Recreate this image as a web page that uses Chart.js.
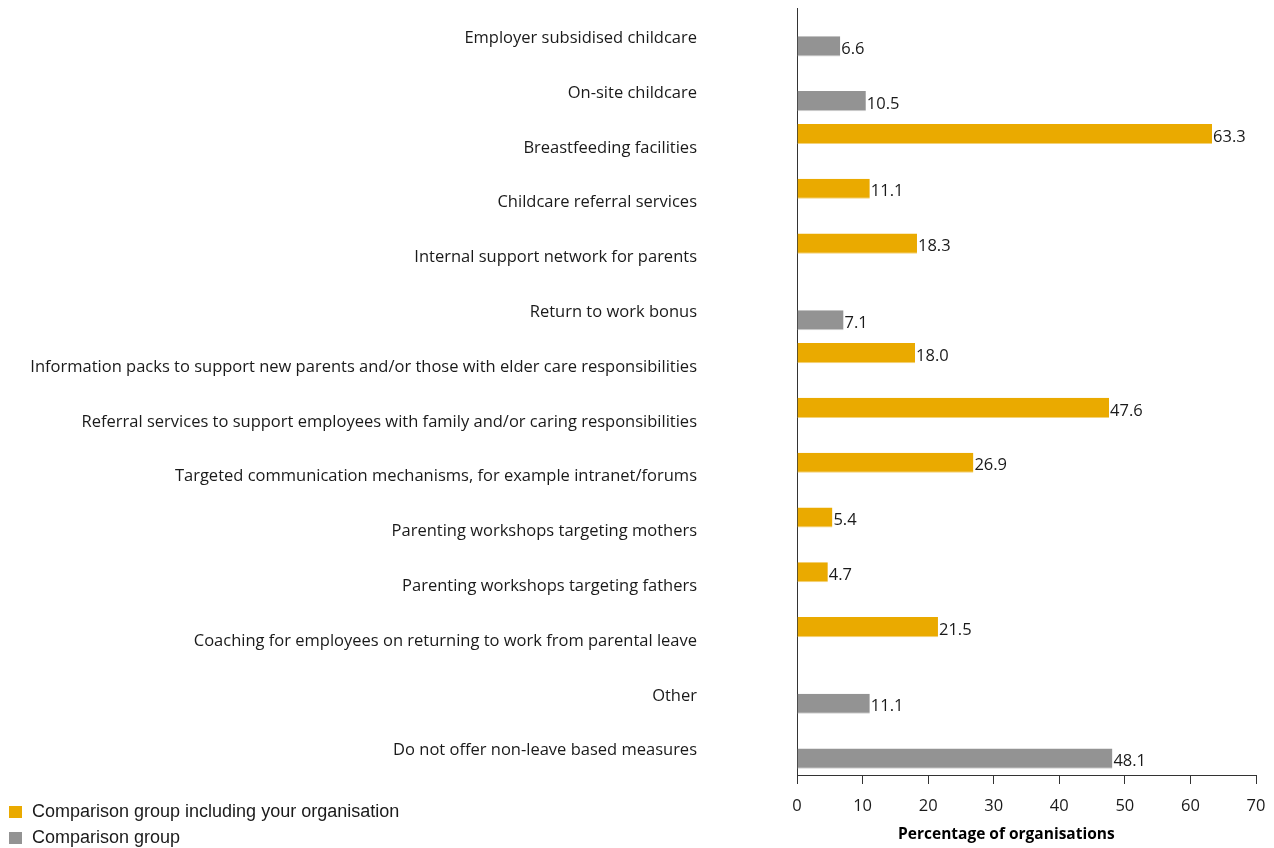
<!DOCTYPE html>
<html>
<head>
<meta charset="utf-8">
<script src="https://cdn.jsdelivr.net/npm/chart.js@4"></script>
<style>
  html, body { margin: 0; padding: 0; background: #fff; }
  #wrap { position: relative; width: 1274px; height: 848px; }
  #legend { position: absolute; left: 9px; top: 800px; font-family: "Liberation Sans", Arial, sans-serif; font-size: 18px; color: #1a1a1a; }
  #legend div { height: 26px; line-height: 22px; white-space: nowrap; }
  #legend span { display: inline-block; width: 13px; height: 12px; margin-right: 10px; vertical-align: -1px; }
</style>
</head>
<body>
<div id="wrap">
  <canvas id="chart" width="1274" height="848"></canvas>
  <div id="legend"></div>
</div>
<script>
const categories = [
  'Employer subsidised childcare',
  'On-site childcare',
  'Breastfeeding facilities',
  'Childcare referral services',
  'Internal support network for parents',
  'Return to work bonus',
  'Information packs to support new parents and/or those with elder care responsibilities',
  'Referral services to support employees with family and/or caring responsibilities',
  'Targeted communication mechanisms, for example intranet/forums',
  'Parenting workshops targeting mothers',
  'Parenting workshops targeting fathers',
  'Coaching for employees on returning to work from parental leave',
  'Other',
  'Do not offer non-leave based measures'
];

// percentage of organisations per measure; null where a group has no bar
const withOrg = [null, null, 63.3, 11.1, 18.3, null, 18.0, 47.6, 26.9, 5.4, 4.7, 21.5, null, null];
const comparison = [6.6, 10.5, null, null, null, 7.1, null, null, null, null, null, null, 11.1, 48.1];

const seriesNames = ['Comparison group including your organisation', 'Comparison group'];
const xTicks = [0, 10, 20, 30, 40, 50, 60, 70];

const YELLOW = '#eaaa00';
const GREY = '#939393';
const TEXT = '#1a1a1a';
const labelFont = '"Open Sans", "Noto Sans", sans-serif';

// write the value just past the end of each bar
const valueLabels = {
  id: 'valueLabels',
  afterDatasetsDraw(chart) {
    const ctx = chart.ctx;
    ctx.save();
    ctx.font = '16.5px ' + labelFont;
    ctx.fillStyle = TEXT;
    ctx.textAlign = 'left';
    ctx.textBaseline = 'middle';
    chart.data.datasets.forEach((ds, i) => {
      chart.getDatasetMeta(i).data.forEach((bar, j) => {
        const v = ds.data[j];
        if (v === null) return;
        ctx.fillText(v.toFixed(1), bar.x + 1, bar.y + 3);
      });
    });
    ctx.restore();
  }
};

const chart = new Chart(document.getElementById('chart'), {
  type: 'bar',
  data: {
    labels: categories,
    datasets: [
      {
        label: seriesNames[0],
        data: withOrg,
        backgroundColor: YELLOW,
        borderColor: '#f3d27a',
        borderWidth: { top: 0, right: 0, bottom: 1, left: 0 },
        borderSkipped: false
      },
      {
        label: seriesNames[1],
        data: comparison,
        backgroundColor: GREY,
        borderColor: '#cfcfcf',
        borderWidth: { top: 0, right: 0, bottom: 1, left: 0 },
        borderSkipped: false
      }
    ]
  },
  options: {
    indexAxis: 'y',
    responsive: false,
    animation: false,
    categoryPercentage: 0.8,
    barPercentage: 0.92,
    layout: { padding: { top: 8, right: 18, left: 0, bottom: 0 } },
    plugins: {
      legend: { display: false },
      tooltip: { enabled: false }
    },
    scales: {
      x: {
        min: 0,
        max: 70,
        afterBuildTicks(scale) {
          scale.ticks = xTicks.map(v => ({ value: v }));
        },
        afterFit(scale) {
          scale.height = 73;
          scale.paddingLeft = 0;
          scale.paddingRight = 0;
        },
        border: { display: true, color: '#333', width: 1 },
        grid: { drawOnChartArea: false, drawTicks: true, tickLength: 9, color: '#333' },
        ticks: { color: TEXT, font: { family: labelFont, size: 16.5 }, padding: 12 },
        title: {
          display: true,
          text: 'Percentage of organisations          ',
          color: '#000',
          font: { family: labelFont, size: 15.5, weight: 'bold' },
          padding: { top: 0, bottom: 4 }
        }
      },
      y: {
        afterFit(scale) {
          scale.width = 797;
          scale.paddingTop = 0;
          scale.paddingBottom = 0;
        },
        border: { display: true, color: '#333', width: 1 },
        // invisible tick marks keep the labels well clear of the axis
        grid: { display: true, drawOnChartArea: false, drawTicks: true, tickLength: 96, color: 'rgba(0,0,0,0)' },
        ticks: { color: TEXT, font: { family: labelFont, size: 16.5 }, padding: 4, labelOffset: 3, autoSkip: false }
      }
    }
  },
  plugins: [valueLabels]
});

// legend at the bottom left
const legend = document.getElementById('legend');
chart.data.datasets.forEach(ds => {
  const row = document.createElement('div');
  const box = document.createElement('span');
  box.style.background = ds.backgroundColor;
  row.appendChild(box);
  row.appendChild(document.createTextNode(ds.label));
  legend.appendChild(row);
});
</script>
</body>
</html>
